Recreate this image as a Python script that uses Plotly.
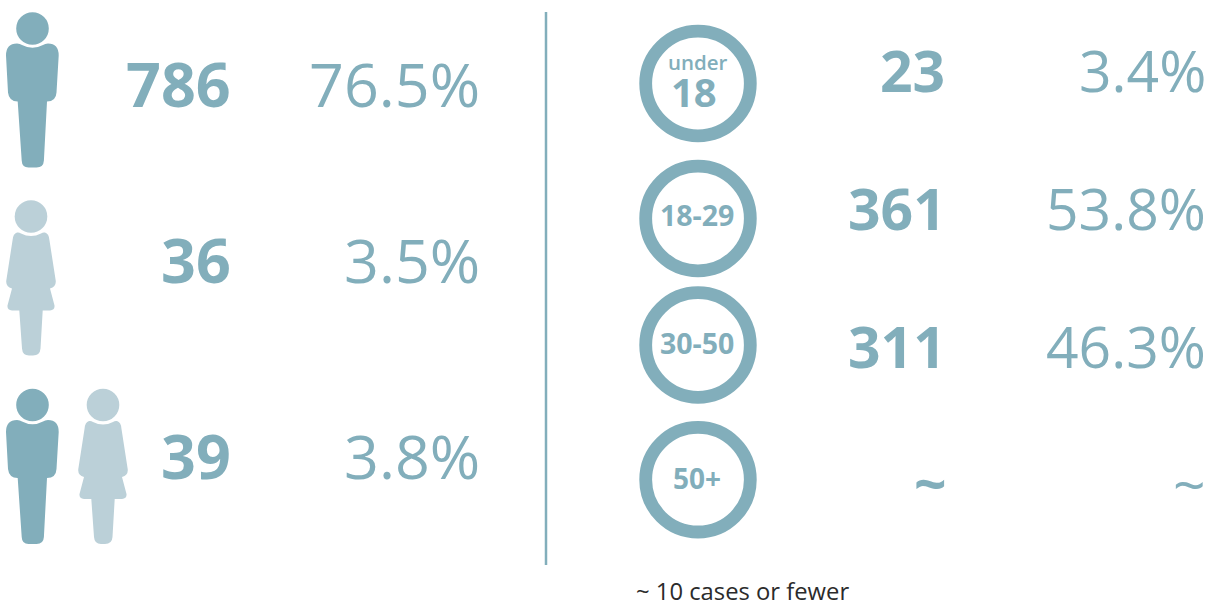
import plotly.graph_objects as go

W, H = 1215, 602
DARK = "#82AEBB"
LIGHT = "#BBD0D8"
FONT = "Open Sans"

# Data
gender_counts = ["786", "36", "39"]
gender_pcts = ["76.5%", "3.5%", "3.8%"]
age_labels = ["under", "18-29", "30-50", "50+"]
age_counts = ["23", "361", "311", "~"]
age_pcts = ["3.4%", "53.8%", "46.3%", "~"]
footnote = "~ 10 cases or fewer"

# Layout positions (px in the 1215x602 canvas)
gender_y = [83, 259, 455]
gender_count_x = 232
gender_pct_x = 481
age_y = [70, 208, 346, 483]
age_count_x = [946, 946.5, 946.5, 947.5]
age_pct_x = 1207
ring_x = 698
ring_y = [83.5, 218.5, 345, 479.7]

shapes, annotations = [], []


def text(x, y, s, size, color=DARK, bold=False, anchor="right", weight=None):
    f = dict(family=FONT, size=size, color=color)
    if weight:
        f["weight"] = weight
    annotations.append(dict(
        x=x, y=y, xref="x", yref="y", text=f"<b>{s}</b>" if bold else s,
        showarrow=False, xanchor=anchor, yanchor="middle", borderpad=0, font=f))


def path(cmds, ox, oy):
    out = []
    for c in cmds:
        out.append(c[0] + " " + " ".join(
            f"{c[i] + ox:.1f},{c[i + 1] + oy:.1f}" for i in range(1, len(c), 2)))
    return " ".join(out) + " Z"


MAN = [("M", -15.5, 15), ("Q", -12.5, 15, -10.5, 16.5), ("Q", 0, 22, 10.5, 16.5),
       ("Q", 12.5, 15, 15.5, 15), ("Q", 26.2, 15, 26.2, 27), ("L", 24, 64),
       ("Q", 23.5, 73, 14.5, 73), ("L", 11.4, 132), ("Q", 11, 139, 4, 139),
       ("L", -4, 139), ("Q", -10.5, 139, -10.8, 132), ("L", -14.8, 73),
       ("Q", -23.5, 73, -24.5, 64), ("L", -26.5, 27), ("Q", -26.5, 15, -15.5, 15)]

WOMAN = [("M", -14, 16), ("Q", -12, 15.5, -10, 17), ("Q", 0, 22, 10, 17),
         ("Q", 12, 15.5, 14, 16), ("Q", 18, 17, 18.5, 24), ("L", 24.7, 64),
         ("Q", 25.5, 70, 19, 72), ("L", 23.5, 89), ("Q", 24, 94, 19, 94),
         ("L", 11.7, 94), ("L", 9.5, 132), ("Q", 9, 139, 2, 139), ("L", -2, 139),
         ("Q", -8.5, 139, -9, 132), ("L", -11.7, 94), ("L", -19, 94),
         ("Q", -24, 94, -23.5, 89), ("L", -19, 72), ("Q", -25.5, 70, -24.7, 64),
         ("L", -18.5, 24), ("Q", -18, 17, -14, 16)]


def person(cx, cy, cmds, color):
    shapes.append(dict(type="circle", xref="x", yref="y", x0=cx - 16.3, x1=cx + 16.3,
                       y0=cy - 16.3, y1=cy + 16.3, fillcolor=color, line_width=0))
    shapes.append(dict(type="path", xref="x", yref="y", path=path(cmds, cx, cy),
                       fillcolor=color, line_width=0))


person(32.5, 28.5, MAN, DARK)
person(31, 216.5, WOMAN, LIGHT)
person(32.5, 405, MAN, DARK)
person(103, 405, WOMAN, LIGHT)

for c, p, y in zip(gender_counts, gender_pcts, gender_y):
    text(gender_count_x, y, c, 61, bold=True)
    text(gender_pct_x, y, p, 61)

shapes.append(dict(type="line", xref="x", yref="y", x0=546, x1=546, y0=12, y1=565,
                   line=dict(color=DARK, width=2.5)))

for i, y in enumerate(ring_y):
    shapes.append(dict(type="circle", xref="x", yref="y", x0=ring_x - 52.3, x1=ring_x + 52.3,
                       y0=y - 52.3, y1=y + 52.3, line=dict(color=DARK, width=12.8)))

text(ring_x, 62, age_labels[0], 20.5, anchor="center", weight=600)
text(ring_x - 4, 91, "18", 40, anchor="center", bold=True)
text(ring_x - 1.5, 215, age_labels[1], 28.5, anchor="center", bold=True)
text(ring_x - 1.5, 343, age_labels[2], 28.5, anchor="center", bold=True)
text(ring_x - 1.5, 478, age_labels[3], 28, anchor="center", bold=True)

for c, p, y, cx in zip(age_counts, age_pcts, age_y, age_count_x):
    text(cx, y, c, 57, bold=True)
    text(age_pct_x, y, p, 57)

text(635, 591, footnote, 23.8, color="#2b2b2b", anchor="left")

fig = go.Figure()
fig.update_layout(
    width=W, height=H, margin=dict(l=0, r=0, t=0, b=0),
    paper_bgcolor="white", plot_bgcolor="white", showlegend=False,
    xaxis=dict(range=[0, W], visible=False, fixedrange=True),
    yaxis=dict(range=[H, 0], visible=False, fixedrange=True),
    shapes=shapes, annotations=annotations,
)
fig.write_html("out.html", post_script="document.body.style.margin='0';",
               config=dict(displayModeBar=False))
